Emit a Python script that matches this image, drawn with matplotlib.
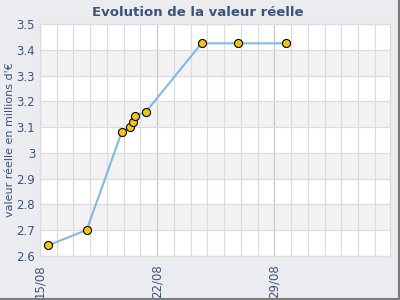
import matplotlib
matplotlib.use("Agg")
import matplotlib.pyplot as plt
import matplotlib.dates as mdates
import numpy as np
import pandas as pd

# données
dates = ["2012-08-15 12:00", "2012-08-17 19:00", "2012-08-19 21:00",
         "2012-08-20 09:00", "2012-08-20 13:00", "2012-08-20 16:00",
         "2012-08-21 08:00", "2012-08-24 15:30", "2012-08-26 20:00",
         "2012-08-29 17:00"]
valeurs = [2.64, 2.70, 3.08, 3.10, 3.12, 3.143, 3.16, 3.426, 3.426, 3.426]
ticks_x = ["2012-08-15", "2012-08-22", "2012-08-29"]
ticks_y = [2.6, 2.7, 2.8, 2.9, 3.0, 3.1, 3.2, 3.3, 3.4, 3.5]
labels_y = ["2.6", "2.7", "2.8", "2.9", "3", "3.1", "3.2", "3.3", "3.4", "3.5"]

txt = "#3b5479"
x = pd.to_datetime(dates)

fig = plt.figure(figsize=(4, 3), dpi=100, facecolor="#ebecef")
ax = fig.add_axes([0.1, 0.148, 0.875, 0.771])
ax.set_facecolor("white")

# bandes alternées
for i in range(len(ticks_y) - 1):
    if i % 2 == 1:
        ax.axhspan(ticks_y[i], ticks_y[i + 1], color="#f2f2f2", zorder=0, lw=0)

x0 = pd.Timestamp("2012-08-15")
ax.set_xlim(mdates.date2num(x0), mdates.date2num(x0) + 20.9)
ax.set_ylim(2.6, 3.5)

ax.xaxis.set_major_locator(mdates.DayLocator(bymonthday=[15, 22, 29]))
ax.xaxis.set_minor_locator(mdates.DayLocator())
ax.xaxis.set_major_formatter(mdates.DateFormatter("%d/%m"))
ax.set_yticks(ticks_y)
ax.set_yticklabels(labels_y)

ax.grid(which="minor", axis="x", color="#dcdcdc", lw=0.9)
ax.grid(which="major", axis="x", color="#c8c8c8", lw=0.9)
ax.grid(which="major", axis="y", color="#dcdcdc", lw=0.9)
ax.set_axisbelow(True)

ax.tick_params(axis="both", which="both", length=0, colors=txt, labelsize=8.5)
ax.tick_params(axis="x", pad=6)
for lab in ax.get_xticklabels():
    lab.set_rotation(90)
for s in ax.spines.values():
    s.set_color("#dcdcdc")
    s.set_linewidth(0.9)

ax.plot(x, valeurs, color="#82b8f0", lw=1.5, zorder=3,
        marker="o", markersize=5.8, markerfacecolor="#f7c600",
        markeredgecolor="black", markeredgewidth=0.8, clip_on=False)

ax.set_ylabel("valeur réelle en millions d'€", color=txt, fontsize=8, labelpad=1)
fig.text(0.495, 0.957, "Evolution de la valeur réelle", ha="center", va="center",
         color=txt, fontsize=9.5, fontweight="bold")

# ombre du cadre
fig.add_artist(plt.Line2D([0.9965, 0.9965], [0.0, 1.0], color="#7a7a7a", lw=1.5,
                          transform=fig.transFigure))
fig.add_artist(plt.Line2D([0.0, 1.0], [0.005, 0.005], color="#7a7a7a", lw=1.5,
                          transform=fig.transFigure))

fig.savefig("out.png", dpi=100, facecolor=fig.get_facecolor())
